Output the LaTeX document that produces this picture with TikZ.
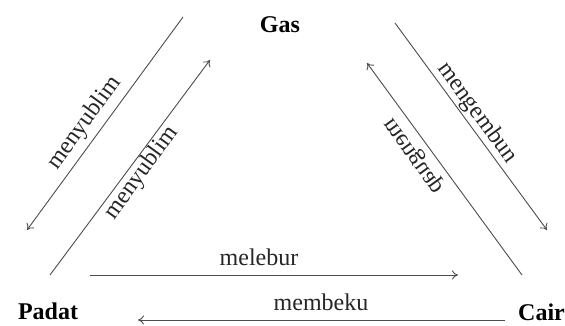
\documentclass[tikz,border=0pt]{standalone}
\usepackage{graphicx}
\usepackage{fontspec}
\setmainfont{Liberation Serif}
\usetikzlibrary{arrows.meta}
\begin{document}
\begin{tikzpicture}[x=1pt,y=-1pt,
  conn/.style={draw=black!70, line width=0.9pt, -{To[length=6pt,width=9pt]}},
  state/.style={font=\fontsize{24}{28}\selectfont\bfseries, inner sep=0pt},
  lbl/.style={font=\fontsize{24}{28}\selectfont, text=black!85, inner sep=0pt}]
\useasboundingbox (0,0) rectangle (565,325);
% states
\node[state] (gas) at (280,25) {Gas};
\node[state] (padat) at (48,311) {Padat};
\node[state, anchor=west] (cair) at (518,312) {Cair};
% endpoints
\coordinate (ol1) at (183,17);  \coordinate (ol2) at (27,230);
\coordinate (il1) at (50,275);  \coordinate (il2) at (210,60);
\coordinate (or1) at (395,23);  \coordinate (or2) at (547,230);
\coordinate (ir1) at (522,275); \coordinate (ir2) at (367,63);
\coordinate (mb1) at (90,275);  \coordinate (mb2) at (458,275);
\coordinate (mk1) at (505,320); \coordinate (mk2) at (138,320);
% connectors
\draw[conn] (ol1) -- (ol2);
\draw[conn] (il1) -- (il2);
\draw[conn] (or1) -- (or2);
\draw[conn] (ir1) -- (ir2);
\draw[conn] (mb1) -- (mb2);
\draw[conn] (mk1) -- (mk2);
% labels
\node[lbl, rotate=54] (l1) at (85,123) {menyublim};
\node[lbl, rotate=54] (l2) at (142,173) {menyublim};
\node[lbl, rotate=-54] (l3) at (477,113) {mengembun};
\node[lbl, rotate=-54] (l4) at (415,155) {\scalebox{1}[-1]{menguap}};
\node[lbl] (l5) at (259,257) {melebur};
\node[lbl] (l6) at (321,302) {membeku};
\end{tikzpicture}
\end{document}
